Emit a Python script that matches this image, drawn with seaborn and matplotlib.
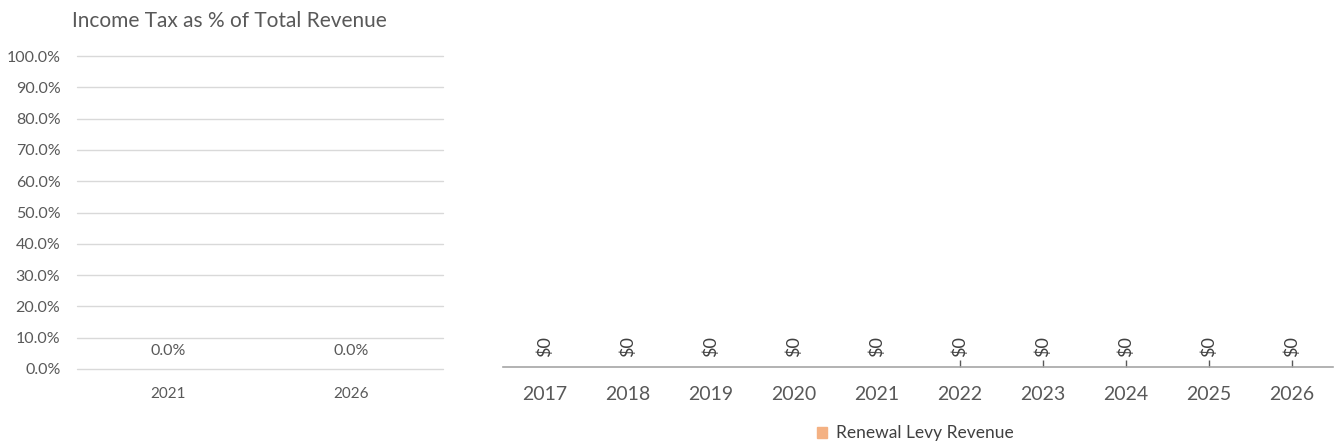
import numpy as np
import pandas as pd
import matplotlib
matplotlib.use("Agg")
import matplotlib.pyplot as plt
import matplotlib.patches as mpatches
import seaborn as sns

# dados
anos_pct = ["2021", "2026"]
income_tax_pct = [0.0, 0.0]

anos = ["2017", "2018", "2019", "2020", "2021", "2022", "2023", "2024", "2025", "2026"]
renewal_levy = [0, 0, 0, 0, 0, 0, 0, 0, 0, 0]
anos_com_marca = ["2022", "2023", "2024", "2025", "2026"]

pct_ticks = [0, 10, 20, 30, 40, 50, 60, 70, 80, 90, 100]

cinza = "#595959"
laranja = "#F4B183"

sns.set_theme(style="white")
plt.rcParams["font.family"] = ["Lato", "DejaVu Sans"]

fig = plt.figure(figsize=(13.4, 4.47), dpi=100)

# grafico da esquerda: percentual
ax1 = fig.add_axes([0.0575, 0.1745, 0.273, 0.700])
df1 = pd.DataFrame({"ano": anos_pct, "pct": income_tax_pct})
sns.barplot(data=df1, x="ano", y="pct", ax=ax1, color="#4472C4", width=0.6, linewidth=0)
ax1.set_ylim(0, 100)
ax1.set_yticks(pct_ticks)
ax1.set_yticklabels([f"{v:.1f}%" for v in pct_ticks])
ax1.grid(axis="y", color="#D9D9D9", lw=1)
for ln in ax1.get_ygridlines():
    ln.set_clip_on(False)
ax1.set_axisbelow(True)
for s in ax1.spines.values():
    s.set_visible(False)
ax1.tick_params(axis="y", length=0, pad=12, labelsize=11.5, labelcolor=cinza)
ax1.tick_params(axis="x", length=0, pad=13, labelsize=11, labelcolor=cinza)
ax1.set_xlabel("")
ax1.set_ylabel("")
for c in ax1.containers:
    ax1.bar_label(c, labels=[f"{v:.1f}%" for v in income_tax_pct],
                  padding=8, fontsize=11.5, color=cinza)
fig.text(0.171, 0.952, "Income Tax as % of Total Revenue", ha="center", va="center",
         fontsize=15, color=cinza)

# grafico da direita: receita
ax2 = fig.add_axes([0.3754, 0.179, 0.6194, 0.73])
df2 = pd.DataFrame({"ano": anos, "valor": renewal_levy})
sns.barplot(data=df2, x="ano", y="valor", ax=ax2, color=laranja, width=0.6, linewidth=0)
ax2.set_ylim(0, 100)
ax2.set_xlim(-0.5, len(anos) - 0.5)
for s in ["top", "right", "left"]:
    ax2.spines[s].set_visible(False)
ax2.spines["bottom"].set_color("#A6A6A6")
ax2.spines["bottom"].set_linewidth(1.2)
ax2.set_yticks([])
ax2.set_xlabel("")
ax2.set_ylabel("")
ax2.tick_params(axis="x", which="major", bottom=True, length=0, pad=14,
                labelsize=14, labelcolor=cinza)
# marcas so nos anos 2022-2026
ax2.xaxis.remove_overlapping_locs = False
ax2.set_xticks([anos.index(a) for a in anos_com_marca], minor=True)
ax2.tick_params(axis="x", which="minor", bottom=True, direction="in", length=5,
                width=1, color="#595959")
for c in ax2.containers:
    ax2.bar_label(c, labels=[f"${v:,.0f}" for v in renewal_levy], rotation=90,
                  padding=7, fontsize=13, color="#404040")

handle = mpatches.Patch(color=laranja, label="Renewal Levy Revenue")
fig.legend(handles=[handle], loc="center", bbox_to_anchor=(0.683, 0.031), frameon=False,
           fontsize=12.5, labelcolor="#404040", handlelength=0.6, handleheight=0.6,
           handletextpad=0.5)

fig.savefig("out.png", dpi=100, facecolor="white")
